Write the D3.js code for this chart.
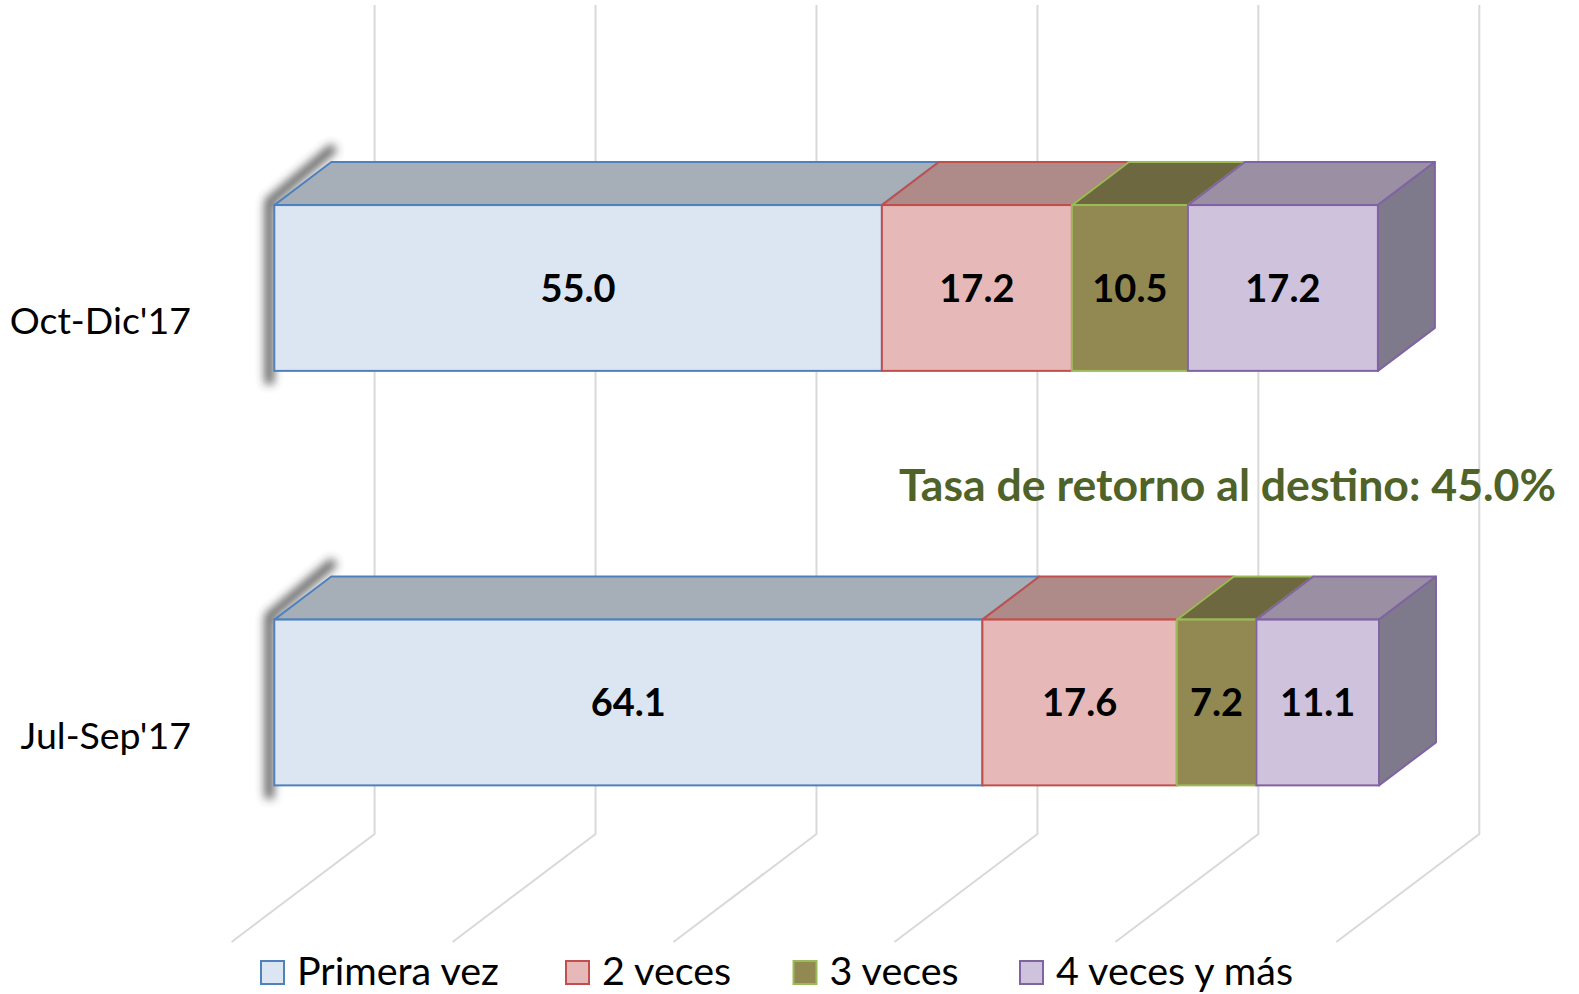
<!DOCTYPE html>
<html>
<head>
<meta charset="utf-8">
<script src="https://cdn.jsdelivr.net/npm/d3@7.9.0/dist/d3.min.js"></script>
<style>
  html, body { margin: 0; padding: 0; background: #fff; }
  svg { display: block; font-family: Lato, "Open Sans", sans-serif; }
</style>
</head>
<body>
<svg id="chart" width="1579" height="994"></svg>
<script>
// chart data
const categories = ["Oct-Dic'17", "Jul-Sep'17"];
const seriesNames = ["Primera vez", "2 veces", "3 veces", "4 veces y más"];
const primeraVez = [55.0, 64.1];
const dosVeces = [17.2, 17.6];
const tresVeces = [10.5, 7.2];
const cuatroVeces = [17.2, 11.1];
const gridTicks = [0, 20, 40, 60, 80, 100];
const noteText = "Tasa de retorno al destino: 45.0%";

// colours per series
const frontColor = ["#DCE6F2", "#E6B9B8", "#928952", "#CFC2DC"];
const topColor = ["#A6AFB7", "#AE8B88", "#6D6840", "#9B8FA3"];
const edgeColor = ["#4F81BD", "#C0504D", "#9BBB59", "#8064A2"];
const sideColor = "#7E7A8B";

const svg = d3.select('#chart');

// table the stack wants
const keys = ["s0", "s1", "s2", "s3"];
const rows = categories.map((c, i) => ({
  cat: c, s0: primeraVez[i], s1: dosVeces[i], s2: tresVeces[i], s3: cuatroVeces[i]
}));
const stacked = d3.stack().keys(keys)(rows);

// back wall scales
const x = d3.scaleLinear().domain([0, 100]).range([374.6, 1479.3]);
const y = d3.scaleBand().domain(categories).range([5, 834]).paddingInner(0.6).paddingOuter(0.3);

// fake 3d: depth z shifts left and down
const k = 0.755;
const floorDepth = 143;
const barBack = 43.3, barFront = 100.3;
function proj(v, yy, z) { return [x(v) - z, yy + z * k]; }
const line = d3.line();

// gridlines: wall + floor
const grid = svg.append('g');
gridTicks.forEach(t => {
  const top = proj(t, 5, 0), bot = proj(t, 834, 0), fr = proj(t, 834, floorDepth);
  grid.append('path')
    .attr('d', line([top, bot, fr]))
    .attr('fill', 'none')
    .attr('stroke', '#D9D9D9')
    .attr('stroke-width', 2);
});

// blur for the left shadow
const defs = svg.append('defs');
defs.append('filter').attr('id', 'blur')
  .attr('x', '-50%').attr('y', '-50%').attr('width', '200%').attr('height', '200%')
  .append('feGaussianBlur').attr('stdDeviation', 5);

const bars = svg.append('g');
categories.forEach((c, i) => {
  const y0 = y(c), y1 = y(c) + y.bandwidth();
  const g = bars.append('g');

  // shadow on the left
  const bt = proj(0, y0, barBack), ft = proj(0, y0, barFront), fb = proj(0, y1, barFront);
  g.append('path')
    .attr('d', line([[bt[0] + 3, bt[1] - 15], [ft[0] - 5, ft[1] - 3], [fb[0] - 5, fb[1] + 13]]))
    .attr('fill', 'none')
    .attr('stroke', '#333')
    .attr('stroke-width', 9)
    .attr('opacity', 0.8)
    .attr('filter', 'url(#blur)');

  stacked.forEach((s, j) => {
    const a = s[i][0], b = s[i][1];
    // top face
    g.append('path')
      .attr('d', line([proj(a, y0, barFront), proj(a, y0, barBack), proj(b, y0, barBack), proj(b, y0, barFront)]) + 'Z')
      .attr('fill', topColor[j])
      .attr('stroke', edgeColor[j])
      .attr('stroke-width', 2)
      .attr('stroke-linejoin', 'round');
    // right side of last piece only
    if (j === stacked.length - 1) {
      g.append('path')
        .attr('d', line([proj(b, y0, barFront), proj(b, y0, barBack), proj(b, y1, barBack), proj(b, y1, barFront)]) + 'Z')
        .attr('fill', sideColor)
        .attr('stroke', edgeColor[j])
        .attr('stroke-width', 2)
        .attr('stroke-linejoin', 'round');
    }
    // front face
    const p0 = proj(a, y0, barFront), p1 = proj(b, y1, barFront);
    g.append('rect')
      .attr('x', p0[0]).attr('y', p0[1])
      .attr('width', p1[0] - p0[0]).attr('height', p1[1] - p0[1])
      .attr('fill', frontColor[j])
      .attr('stroke', edgeColor[j])
      .attr('stroke-width', 2);
  });

  // value labels
  stacked.forEach((s, j) => {
    const a = s[i][0], b = s[i][1];
    const p = proj((a + b) / 2, (y0 + y1) / 2, barFront);
    g.append('text')
      .attr('x', p[0]).attr('y', p[1] + 14)
      .attr('text-anchor', 'middle')
      .attr('font-size', 38)
      .attr('font-weight', 700)
      .attr('fill', '#000')
      .text(d3.format('.1f')(b - a));
  });

  // category label on the floor front
  const lp = proj(0, (y0 + y1) / 2, floorDepth);
  svg.append('text')
    .attr('x', 191).attr('y', lp[1] + 14)
    .attr('text-anchor', 'end')
    .attr('font-size', 37.5)
    .attr('fill', '#000')
    .text(c);
});

// note text
svg.append('text')
  .attr('x', 899).attr('y', 501)
  .attr('font-size', 43)
  .attr('font-weight', 700)
  .attr('fill', '#4F6228')
  .attr('textLength', 657)
  .attr('lengthAdjust', 'spacingAndGlyphs')
  .text(noteText);

// legend
const legendX = [261, 566, 793.5, 1020];
const legend = svg.append('g');
seriesNames.forEach((n, j) => {
  legend.append('rect')
    .attr('x', legendX[j]).attr('y', 961)
    .attr('width', 23).attr('height', 23)
    .attr('fill', frontColor[j])
    .attr('stroke', edgeColor[j])
    .attr('stroke-width', 2);
  legend.append('text')
    .attr('x', legendX[j] + 36).attr('y', 985)
    .attr('font-size', 39.5)
    .attr('fill', '#000')
    .text(n);
});
</script>
</body>
</html>
